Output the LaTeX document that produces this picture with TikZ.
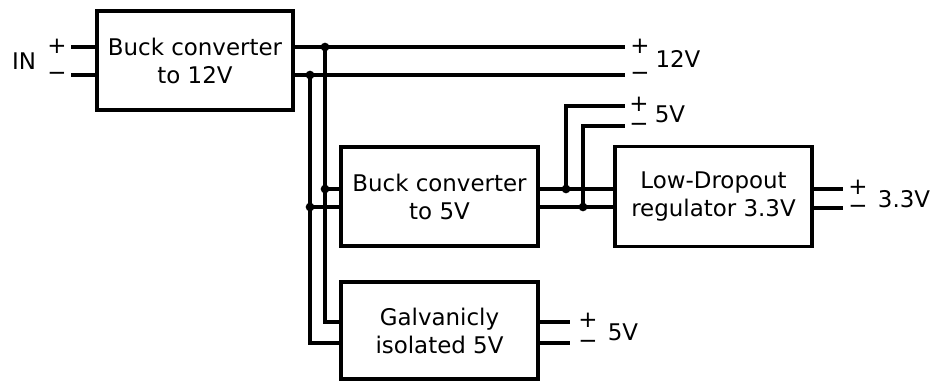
\documentclass[tikz,border=0pt]{standalone}
\usepackage{fontspec}
\setmainfont{DejaVu Sans}
\begin{document}
\begin{tikzpicture}[x=0.75pt,y=-0.75pt,line width=2.9pt,
  blk/.style={draw,line width=2.9pt,align=center,inner sep=0pt,
    minimum width=147.5pt,font=\fontsize{17.2}{21}\selectfont},
  lbl/.style={inner sep=0pt,font=\fontsize{17.2}{20}\selectfont},
  pm/.style={inner sep=0pt,font=\fontsize{17.2}{20}\selectfont},
  dot/.style={circle,fill,inner sep=0pt,minimum size=6.5pt}]
\useasboundingbox (0,0) rectangle (934,381);
% blocks
\node[blk,minimum height=74pt] (b12) at (195,60.5) {Buck converter\\to 12V};
\node[blk,minimum height=74.25pt] (b5) at (439.5,196.5) {Buck converter\\to 5V};
\node[blk,minimum height=75pt] (ldo) at (713.5,196.5) {Low-Dropout\\regulator 3.3V};
\node[blk,minimum height=72.75pt] (gal) at (439.5,330.5) {Galvanicly\\isolated 5V};
% input
\coordinate (inp) at (71,47);
\coordinate (inm) at (71,75);
\draw (inp) -- (inp -| b12.west);
\draw (inm) -- (inm -| b12.west);
\node[pm] (inplus) at (57,46) {+};
\node[pm] (inminus) at (57,76) {−};
\node[lbl] (inlbl) at (24,61) {IN};
% 12V output
\coordinate (o12p) at (625,47);
\coordinate (o12m) at (625,75);
\draw (b12.east |- o12p) -- (o12p);
\draw (b12.east |- o12m) -- (o12m);
\node[pm] (p12) at (640,46) {+};
\node[pm] (m12) at (640,76) {−};
\node[lbl] (l12) at (678,59) {12V};
% taps
\node[dot] (d1) at (325,47) {};
\node[dot] (d2) at (310,75) {};
\node[dot] (d3) at (325,189) {};
\node[dot] (d4) at (310,207) {};
\coordinate (gp) at (325,322);
\coordinate (gm) at (310,343);
\draw (d1.center) -- (d3.center) -- (gp) -- (gp -| gal.west);
\draw (d2.center) -- (d4.center) -- (gm) -- (gm -| gal.west);
\draw (d3.center) -- (d3.center -| b5.west);
\draw (d4.center) -- (d4.center -| b5.west);
% buck 5V outputs
\node[dot] (d5) at (566,189) {};
\node[dot] (d6) at (583,207) {};
\draw (b5.east |- d5.center) -- (d5.center) -- (d5.center -| ldo.west);
\draw (b5.east |- d6.center) -- (d6.center) -- (d6.center -| ldo.west);
\coordinate (o5p) at (625,106);
\coordinate (o5m) at (625,126);
\draw (d5.center) -- (d5.center |- o5p) -- (o5p);
\draw (d6.center) -- (d6.center |- o5m) -- (o5m);
\node[pm] (p5) at (639,104) {+};
\node[pm] (m5) at (639,127) {−};
\node[lbl] (l5) at (670,114) {5V};
% LDO outputs
\coordinate (o3p) at (843,189);
\coordinate (o3m) at (843,208);
\draw (ldo.east |- o3p) -- (o3p);
\draw (ldo.east |- o3m) -- (o3m);
\node[pm] (p3) at (858,187) {+};
\node[pm] (m3) at (858,209) {−};
\node[lbl] (l3) at (904,199) {3.3V};
% galvanic outputs
\coordinate (ogp) at (570,322);
\coordinate (ogm) at (570,343);
\draw (gal.east |- ogp) -- (ogp);
\draw (gal.east |- ogm) -- (ogm);
\node[pm] (pg) at (588,320) {+};
\node[pm] (mg) at (588,344) {−};
\node[lbl] (lg) at (623,332) {5V};
\end{tikzpicture}
\end{document}
